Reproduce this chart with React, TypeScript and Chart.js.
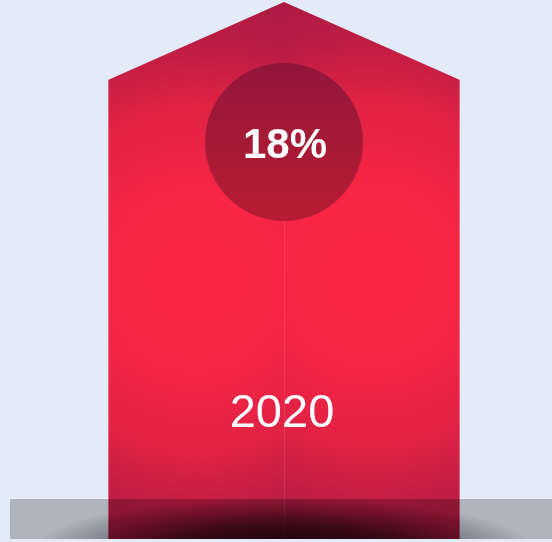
import React, { useEffect, useRef } from 'react';
import { Chart, registerables } from 'chart.js';

Chart.register(...registerables);

const categories: string[] = ['2020'];
const values: number[] = [18];
const valueLabels: string[] = ['18%'];

const FONT = '"Liberation Sans", Arial, sans-serif';

const housePlugin = {
  id: 'housePlugin',
  beforeDraw(chart: any) {
    const ctx = chart.ctx;
    ctx.save();
    ctx.fillStyle = '#e4ebf8';
    ctx.fillRect(0, 0, chart.width, chart.height);
    ctx.restore();
  },
  afterDatasetsDraw(chart: any) {
    const ctx: CanvasRenderingContext2D = chart.ctx;
    const meta = chart.getDatasetMeta(0);
    meta.data.forEach((el: any, i: number) => {
      const { x, y, base, width } = el.getProps(['x', 'y', 'base', 'width'], true);
      const left = x - width / 2;
      const right = x + width / 2;
      const top = y;
      const shoulder = top + 78;
      const h = base - top;

      ctx.save();
      ctx.beginPath();
      ctx.moveTo(left, base);
      ctx.lineTo(left, shoulder);
      ctx.lineTo(x, top);
      ctx.lineTo(right, shoulder);
      ctx.lineTo(right, base);
      ctx.closePath();
      ctx.clip();

      const halves = [
        { cx: x - width / 4, cy: top + h * 0.517, x0: left, x1: x },
        { cx: x + width / 4, cy: top + h * 0.508, x0: x, x1: right },
      ];
      halves.forEach((hf) => {
        const g = ctx.createRadialGradient(hf.cx, hf.cy, 0, hf.cx, hf.cy, 290);
        g.addColorStop(0, '#fc2644');
        g.addColorStop(0.3, '#f82544');
        g.addColorStop(0.6, '#e02245');
        g.addColorStop(0.8, '#bf1d44');
        g.addColorStop(1, '#ab1a44');
        ctx.fillStyle = g;
        ctx.fillRect(hf.x0, top, hf.x1 - hf.x0, h);
      });

      ctx.strokeStyle = 'rgba(255,190,210,0.45)';
      ctx.lineWidth = 1;
      ctx.beginPath();
      ctx.moveTo(left + 0.5, shoulder);
      ctx.lineTo(left + 0.5, base);
      ctx.moveTo(right - 0.5, shoulder);
      ctx.lineTo(right - 0.5, base);
      ctx.stroke();
      ctx.restore();

      const ccy = top + 140;
      const r = 79;
      const cg = ctx.createLinearGradient(0, ccy - r, 0, ccy + r);
      cg.addColorStop(0, '#92163a');
      cg.addColorStop(0.5, '#a61a36');
      cg.addColorStop(1, '#b81c34');

      ctx.save();
      ctx.strokeStyle = 'rgba(255,255,255,0.1)';
      ctx.lineWidth = 1;
      ctx.beginPath();
      ctx.moveTo(Math.round(x) + 0.5, ccy + r);
      ctx.lineTo(Math.round(x) + 0.5, base);
      ctx.stroke();
      ctx.restore();

      ctx.save();
      ctx.beginPath();
      ctx.arc(x, ccy, r, 0, Math.PI * 2);
      ctx.fillStyle = cg;
      ctx.fill();

      ctx.fillStyle = '#ffffff';
      ctx.textAlign = 'center';
      ctx.textBaseline = 'middle';
      ctx.font = `bold 42px ${FONT}`;
      ctx.fillText(valueLabels[i], x + 1, ccy + 4);

      ctx.font = `47px ${FONT}`;
      ctx.fillText(categories[i], x - 2, top + 412);
      ctx.restore();
    });

    const bandTop = 499;
    const bandBottom = 539;
    ctx.save();
    ctx.fillStyle = 'rgba(0,0,0,0.23)';
    ctx.fillRect(10, bandTop, chart.width - 10, bandBottom - bandTop);
    ctx.beginPath();
    ctx.rect(10, bandTop, chart.width - 10, bandBottom - bandTop);
    ctx.clip();
    const cx = chart.getDatasetMeta(0).data[0].x;
    ctx.translate(cx, 548);
    ctx.scale(1, 0.2);
    const sg = ctx.createRadialGradient(0, 0, 0, 0, 0, 250);
    sg.addColorStop(0, 'rgba(0,0,0,0.8)');
    sg.addColorStop(0.45, 'rgba(0,0,0,0.6)');
    sg.addColorStop(0.75, 'rgba(0,0,0,0.25)');
    sg.addColorStop(1, 'rgba(0,0,0,0)');
    ctx.fillStyle = sg;
    ctx.beginPath();
    ctx.arc(0, 0, 250, 0, Math.PI * 2);
    ctx.fill();
    ctx.restore();
  },
};

export default function App() {
  const ref = useRef<HTMLCanvasElement | null>(null);
  useEffect(() => {
    if (!ref.current) return;
    const chart = new Chart(ref.current, {
      type: 'bar',
      data: {
        labels: categories,
        datasets: [
          {
            data: values,
            backgroundColor: 'rgba(0,0,0,0)',
            borderWidth: 0,
            categoryPercentage: 1,
            barPercentage: 352 / 536,
          },
        ],
      },
      options: {
        animation: false,
        responsive: false,
        maintainAspectRatio: false,
        layout: { padding: { top: 2, bottom: 3, left: 16, right: 0 } },
        plugins: { legend: { display: false }, tooltip: { enabled: false } },
        scales: {
          x: { display: false },
          y: { display: false, min: 0, max: 18 },
        },
      },
      plugins: [housePlugin],
    });
    return () => chart.destroy();
  }, []);
  return (
    <div style={{ position: 'fixed', left: 0, top: 0, width: 552, height: 542, background: '#e4ebf8' }}>
      <canvas ref={ref} width={552} height={542} style={{ display: 'block', width: 552, height: 542 }} />
    </div>
  );
}
